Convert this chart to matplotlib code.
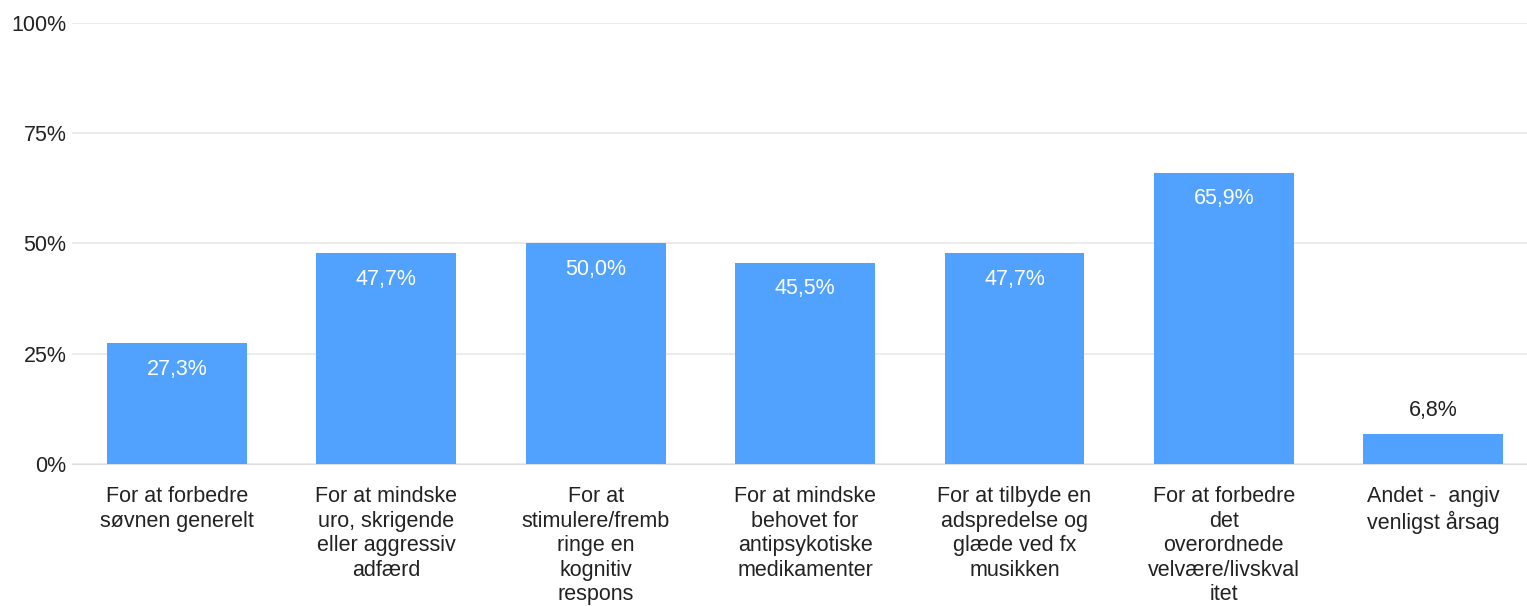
import matplotlib.pyplot as plt
import numpy as np

plt.rcParams['font.family'] = ['Liberation Sans', 'DejaVu Sans']

categories = [
    'For at forbedre\nsøvnen generelt',
    'For at mindske\nuro, skrigende\neller aggressiv\nadfærd',
    'For at\nstimulere/fremb\nringe en\nkognitiv\nrespons',
    'For at mindske\nbehovet for\nantipsykotiske\nmedikamenter',
    'For at tilbyde en\nadspredelse og\nglæde ved fx\nmusikken',
    'For at forbedre\ndet\noverordnede\nvelvære/livskval\nitet',
    'Andet -  angiv\nvenligst årsag',
]
values = [27.3, 47.7, 50.0, 45.5, 47.7, 65.9, 6.8]
yticks = [0, 25, 50, 75, 100]

fig = plt.figure(figsize=(15.27, 6.06), dpi=100)
# right edge runs a little past the image, as in the original screenshot
ax = fig.add_axes([0.0472, 0.2345, 0.960, 0.728])

x = np.arange(len(values))
bars = ax.bar(x, values, width=0.668, color='#51a1ff', zorder=3)

for i, v in enumerate(values):
    label = f'{v:.1f}%'.replace('.', ',')
    if v > 15:
        ax.annotate(label, (x[i], v), xytext=(0, -18.5), textcoords='offset points',
                    ha='center', va='center', color='white', fontsize=15.5)
    else:
        ax.annotate(label, (x[i], v), xytext=(0, 17), textcoords='offset points',
                    ha='center', va='center', color='#222222', fontsize=15.5)

ax.set_xlim(-0.5, len(values) - 0.5)
ax.set_ylim(0, 100)
ax.set_yticks(yticks)
ax.set_yticklabels([f'{t}%' for t in yticks], fontsize=15.5, color='#222222')
ax.set_xticks(x)
ax.set_xticklabels(categories, fontsize=15.5, color='#222222', linespacing=1.22)
ax.tick_params(axis='both', length=0)
ax.tick_params(axis='x', pad=16)
ax.tick_params(axis='y', pad=4)

ax.grid(axis='y', color='#e8e8e8', linewidth=1.2, zorder=0)
for s in ['top', 'right', 'left']:
    ax.spines[s].set_visible(False)
ax.spines['bottom'].set_color('#dddddd')

fig.savefig('out.png', dpi=100)
